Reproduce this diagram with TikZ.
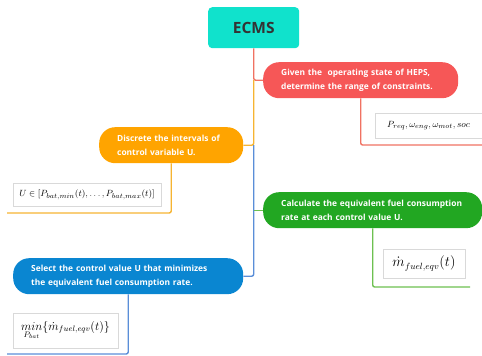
\documentclass[tikz,border=0pt]{standalone}
\usepackage{amsmath,amssymb}
\usepackage{xcolor}
\usepackage{fontspec}
\newfontfamily\uifont{Open Sans}
\usepackage{tikz}
\usetikzlibrary{positioning}

\definecolor{ecmsteal}{HTML}{10E2CC}
\definecolor{stepred}{HTML}{F65757}
\definecolor{steporange}{HTML}{FFA400}
\definecolor{stepgreen}{HTML}{22A722}
\definecolor{stepblue}{HTML}{0A86D1}
\definecolor{linkred}{HTML}{F07262}
\definecolor{linkorange}{HTML}{F6B432}
\definecolor{linkgreen}{HTML}{6DC050}
\definecolor{linkblue}{HTML}{5A8ED8}

\begin{document}
\begin{tikzpicture}[x=1pt, y=-1pt,
  stepbox/.style={rounded corners=16pt, text=white, align=left, anchor=north west,
    font=\uifont\bfseries\fontsize{8.4}{14}\selectfont,
    inner xsep=18pt, inner ysep=0pt, minimum height=36pt},
  formula/.style={draw=gray!30, fill=white, line width=0.6pt, inner sep=2pt},
  link/.style={line width=1.4pt, rounded corners=2pt}
]
\useasboundingbox (0,0) rectangle (482,356);
% root
\node[fill=ecmsteal, rounded corners=4pt, minimum width=91pt, minimum height=41pt,
  anchor=north west, text=black!80, font=\uifont\bfseries\fontsize{15.5}{17}\selectfont] (ecms) at (208,7) {ECMS};
% steps
\node[stepbox, fill=stepred, text width=159pt] (given) at (263,62)
  {Given the\ \ operating state of HEPS,\\determine the range of constraints.};
\node[stepbox, fill=steporange, text width=108pt] (disc) at (99,127)
  {Discrete the intervals of\\control variable U.};
\node[stepbox, fill=stepgreen, text width=183pt] (calc) at (263,192)
  {Calculate the equivalent fuel consumption\\rate at each control value U.};
\node[stepbox, fill=stepblue, text width=194pt] (sel) at (13,258)
  {Select the control value U that minimizes\\the equivalent fuel consumption rate.};
% formulas
\node[formula, minimum width=107pt, minimum height=25pt] (fgiven) at (428.5,125.5)
  {\fontsize{9.4}{10}\selectfont $P_{req},\omega_{eng},\omega_{mot},soc$};
\node[formula, minimum width=148pt, minimum height=23pt] (fdisc) at (87,194.5)
  {\fontsize{9.5}{10}\selectfont $U\in[P_{bat,min}(t),\ldots,P_{bat,max}(t)]$};
\node[formula, minimum width=82pt, minimum height=29pt] (fcalc) at (424,263.5)
  {\fontsize{13.5}{14}\selectfont $\dot{m}_{fuel,eqv}(t)$};
\node[formula, minimum width=105pt, minimum height=35pt] (fsel) at (65.5,330.5)
  {\fontsize{11.5}{12}\selectfont $\mathop{min}\limits_{P_{bat}}\{\dot{m}_{fuel,eqv}(t)\}$};
% trunk
\coordinate (j1) at (ecms.south |- given.west);
\coordinate (j2) at (ecms.south |- disc.east);
\coordinate (j3) at (ecms.south |- calc.west);
\draw[link, linkred] (ecms.south) |- (given.west);
\draw[link, linkorange] (j1) |- (disc.east);
\draw[link, linkblue] (j2) |- (sel.east);
\draw[link, linkgreen] (j3) -- (calc.west);
% branches
\coordinate (e1) at (482,145);
\coordinate (e2) at (7,213);
\coordinate (e3) at (470,287);
\coordinate (e4) at (7,354);
\draw[link, linkred] (given.south) |- (e1);
\draw[link, linkorange] (disc.south) |- (e2);
\draw[link, linkgreen] (calc.south) |- (e3);
\draw[link, linkblue] (sel.south) |- (e4);
\end{tikzpicture}
\end{document}
